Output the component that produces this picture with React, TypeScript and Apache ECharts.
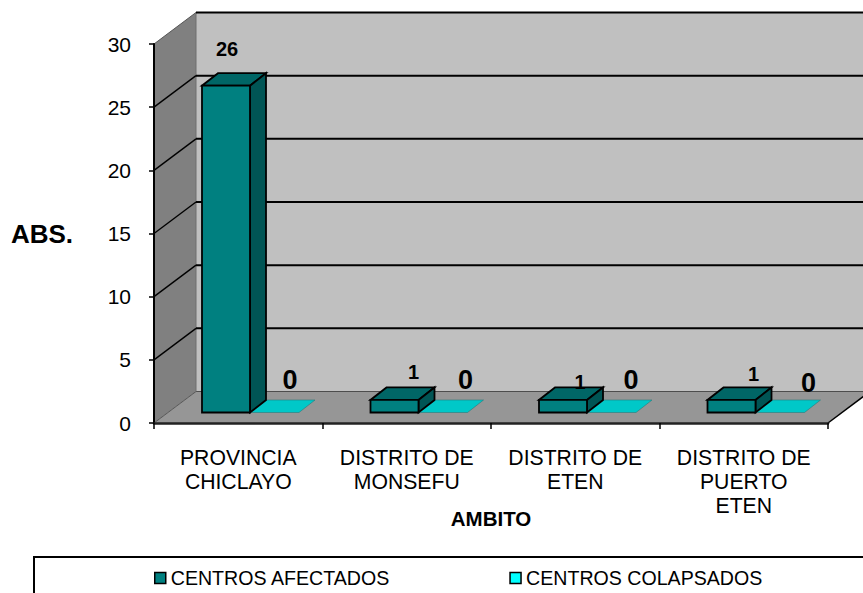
import React, { useEffect, useRef } from "react";
import * as echarts from "echarts";

const categories = ["PROVINCIA\nCHICLAYO", "DISTRITO DE\nMONSEFU", "DISTRITO DE\nETEN", "DISTRITO DE\nPUERTO\nETEN"];
const afectados = [26, 1, 1, 1];
const colapsados = [0, 0, 0, 0];
const yTicks = [0, 5, 10, 15, 20, 25, 30];
const FONT = "Arial, 'Liberation Sans', sans-serif";

// Oblique projection of the Excel-style 3D box
const DEPTH_X = 42;
const DEPTH_Y = 31.5;
const BAR_DX = 16;
const BAR_DY = 12.5;
const BAR_W = 48;
const BASE_LIFT = 10.5;

const labelOffsets = {
  afectados: { dx: [25, 43, 41, 46], dy: [-37, -28, -18, -26], size: [20, 20, 20, 20] },
  colapsados: { dx: [39, 46, 43, 52], dy: [-33, -33, -33, -30], size: [27, 27, 27, 27] },
};

const poly = (points: number[][], fill: string, stroke = "#000", lineWidth = 1.8) => ({
  type: "polygon",
  shape: { points },
  style: { fill, stroke, lineWidth, lineJoin: "miter" },
});
const seg = (x1: number, y1: number, x2: number, y2: number, stroke = "#000", lineWidth = 1.5) => ({
  type: "line",
  shape: { x1, y1, x2, y2 },
  style: { stroke, lineWidth },
});

const renderBox = (params: any, api: any) => {
  const cs = params.coordSys;
  const yOf = (v: number) => api.coord([0, v])[1];
  const L = cs.x;
  const R = cs.x + cs.width;
  const y0 = yOf(0);
  const yTop = yOf(yTicks[yTicks.length - 1]);
  const children: any[] = [
    poly([[L + DEPTH_X, y0 - DEPTH_Y], [R + DEPTH_X, y0 - DEPTH_Y], [R + DEPTH_X, yTop - DEPTH_Y], [L + DEPTH_X, yTop - DEPTH_Y]], "#C0C0C0", "none", 0),
    poly([[L, y0], [L + DEPTH_X, y0 - DEPTH_Y], [L + DEPTH_X, yTop - DEPTH_Y], [L, yTop]], "#808080", "none", 0),
    poly([[L, y0], [R, y0], [R + DEPTH_X, y0 - DEPTH_Y], [L + DEPTH_X, y0 - DEPTH_Y]], "#969696", "none", 0),
    seg(L + DEPTH_X, y0 - DEPTH_Y, R + DEPTH_X, y0 - DEPTH_Y, "#4d4d4d", 1),
    seg(L, y0, L + DEPTH_X, y0 - DEPTH_Y, "#555", 1),
    seg(L + DEPTH_X, y0 - DEPTH_Y, L + DEPTH_X, yTop - DEPTH_Y, "#6e6e6e", 1),
    seg(L, yTop, L + DEPTH_X, yTop - DEPTH_Y, "#555", 1),
    seg(R, y0, R + DEPTH_X, y0 - DEPTH_Y, "#000", 1.5),
  ];
  yTicks.slice(1).forEach((t) => {
    const y = yOf(t);
    if (t !== yTicks[yTicks.length - 1]) children.push(seg(L, y, L + DEPTH_X, y - DEPTH_Y, "#000", 1.4));
    children.push(seg(L + DEPTH_X, y - DEPTH_Y, R + DEPTH_X, y - DEPTH_Y, "#000", 2));
  });
  return { type: "group", children };
};

const makeRenderBar = (slot: number, side: string, front: string, top: string, offs: any, flatStroke: string) =>
  (params: any, api: any) => {
    const cs = params.coordSys;
    const i = api.value(0);
    const v = api.value(1);
    const band = api.size([1, 0])[0];
    const y0 = api.coord([i, 0])[1];
    const yv = api.coord([i, v])[1];
    const left = cs.x + band * i + 48 + slot * (BAR_W + 1);
    const right = left + BAR_W;
    const base = y0 - BASE_LIFT;
    const topY = base - (y0 - yv) * 0.995;
    const children: any[] = [];
    const text = {
      type: "text",
      x: left + offs.dx[i],
      y: topY + offs.dy[i],
      style: {
        text: String(v),
        fill: "#000",
        font: `bold ${offs.size[i]}px ${FONT}`,
        textAlign: "center",
        textVerticalAlign: "middle",
      },
    };
    if (v === 0) {
      children.push(poly([[left, base], [right, base], [right + BAR_DX, base - BAR_DY], [left + BAR_DX, base - BAR_DY]], top, flatStroke, 0.6));
    } else {
      children.push(
        poly([[left, topY], [right, topY], [right + BAR_DX, topY - BAR_DY], [left + BAR_DX, topY - BAR_DY]], top),
        poly([[right, topY], [right + BAR_DX, topY - BAR_DY], [right + BAR_DX, base - BAR_DY], [right, base]], side),
        poly([[left, base], [right, base], [right, topY], [left, topY]], front),
      );
    }
    children.push(text);
    return { type: "group", children };
  };

export default function App() {
  const ref = useRef<HTMLDivElement>(null);
  useEffect(() => {
    const chart = echarts.init(ref.current!, null, { renderer: "svg" });
    chart.setOption({
      animation: false,
      backgroundColor: "#fff",
      textStyle: { fontFamily: FONT },
      grid: { left: 154, right: 35, top: 44, bottom: 170, containLabel: false, outerBoundsMode: "none" },
      legend: {
        left: 149,
        top: 563,
        itemWidth: 11,
        itemHeight: 11,
        itemGap: 119,
        textStyle: { fontSize: 19.6, color: "#000", fontFamily: FONT },
        data: [
          { name: "CENTROS AFECTADOS", icon: "rect", itemStyle: { color: "#008080", borderColor: "#000", borderWidth: 1.5 } },
          { name: "CENTROS COLAPSADOS", icon: "rect", itemStyle: { color: "#00FFFF", borderColor: "#000", borderWidth: 1.5 } },
        ],
      },
      graphic: [
        {
          type: "polyline",
          shape: { points: [[34, 593], [34, 557], [863, 557]] },
          style: { fill: "none", stroke: "#000", lineWidth: 2 },
          z: 10,
        },
      ],
      xAxis: {
        type: "category",
        data: categories,
        z: 5,
        name: "AMBITO",
        nameLocation: "middle",
        nameGap: 85,
        nameMoveOverlap: false,
        nameTextStyle: { fontSize: 20.5, fontWeight: "bold", color: "#000", fontFamily: FONT },
        axisLine: { lineStyle: { color: "#222", width: 2.5 } },
        axisTick: { show: true, length: 6, lineStyle: { color: "#000", width: 1.5 } },
        axisLabel: { fontSize: 21.2, color: "#000", lineHeight: 24, margin: 22, interval: 0, fontFamily: FONT },
      },
      yAxis: {
        type: "value",
        min: 0,
        max: 30,
        interval: 5,
        z: 5,
        name: "ABS.",
        nameLocation: "middle",
        nameRotate: 0,
        nameGap: 81,
        nameTextStyle: { fontSize: 26, fontWeight: "bold", color: "#000", fontFamily: FONT },
        splitLine: { show: false },
        axisLine: { show: true, lineStyle: { color: "#000", width: 2 } },
        axisTick: { show: true, length: 5, lineStyle: { color: "#000", width: 1.5 } },
        axisLabel: { fontSize: 21, color: "#000", margin: 23, padding: [4, 0, 0, 0], fontFamily: FONT },
      },
      series: [
        { name: "box", type: "custom", z: 1, silent: true, renderItem: renderBox, data: [[0, 0]], encode: { x: 0, y: 1 } },
        {
          name: "CENTROS COLAPSADOS",
          type: "custom",
          z: 2,
          renderItem: makeRenderBar(1, "#00CCCC", "#00FFFF", "#00C8C8", labelOffsets.colapsados, "#2a7a7a"),
          itemStyle: { color: "#00FFFF" },
          data: colapsados.map((v, i) => [i, v]),
          encode: { x: 0, y: 1 },
        },
        {
          name: "CENTROS AFECTADOS",
          type: "custom",
          z: 3,
          renderItem: makeRenderBar(0, "#005555", "#008080", "#006666", labelOffsets.afectados, "#000"),
          itemStyle: { color: "#008080" },
          data: afectados.map((v, i) => [i, v]),
          encode: { x: 0, y: 1 },
        },
      ],
    });
    return () => chart.dispose();
  }, []);
  return <div ref={ref} style={{ position: "absolute", left: 0, top: 0, width: 863, height: 593 }} />;
}
